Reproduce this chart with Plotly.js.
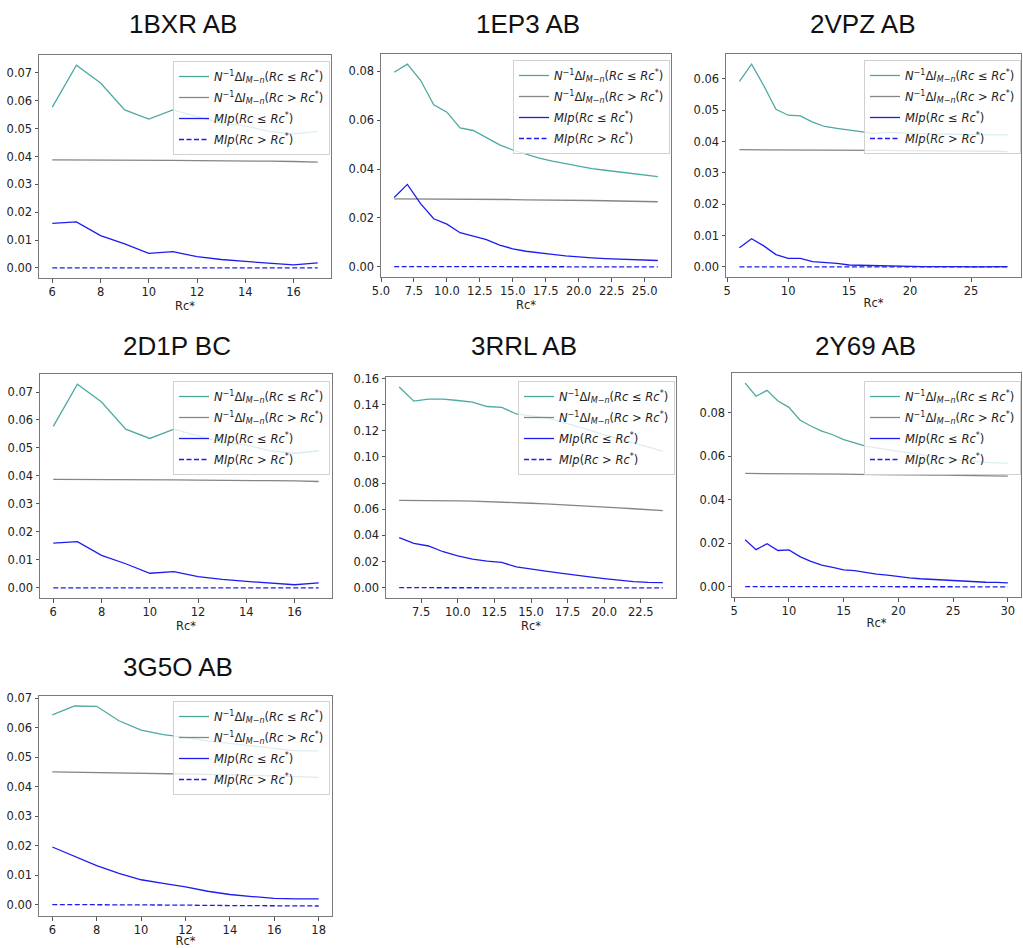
<!DOCTYPE html>
<html>
<head>
<meta charset="utf-8">
<script src="https://cdn.plot.ly/plotly-3.0.1.min.js"></script>
<style>html,body{margin:0;padding:0;background:#fff}#chart{width:1023px;height:948px}</style>
</head>
<body>
<div id="chart"></div>
<script>
// ---------------- DATA ----------------
const panelTitles = ["1BXR AB", "1EP3 AB", "2VPZ AB", "2D1P BC", "3RRL AB", "2Y69 AB", "3G5O AB"];
const seriesNames = [
  "<i>N</i><sup>−1</sup>Δ<i>I</i><sub><i>M−n</i></sub>(<i>Rc</i> ≤ <i>Rc</i><sup>*</sup>)",
  "<i>N</i><sup>−1</sup>Δ<i>I</i><sub><i>M−n</i></sub>(<i>Rc</i> > <i>Rc</i><sup>*</sup>)",
  "<i>MIp</i>(<i>Rc</i> ≤ <i>Rc</i><sup>*</sup>)",
  "<i>MIp</i>(<i>Rc</i> > <i>Rc</i><sup>*</sup>)"
];
const xTitle = "Rc*";

// 1BXR AB
const rc_1BXR   = [6,7,8,9,10,11,12,13,14,15,16,17];
const teal_1BXR = [0.0577,0.0728,0.0664,0.0567,0.0534,0.0567,0.0543,0.0520,0.0510,0.0490,0.0481,0.0490];
const gray_1BXR = [0.0388,0.0388,0.0388,0.0387,0.0387,0.0386,0.0385,0.0385,0.0384,0.0383,0.0382,0.0380];
const blue_1BXR = [0.0160,0.0165,0.0116,0.0086,0.0052,0.0058,0.0040,0.0030,0.0023,0.0016,0.0011,0.0018];
const dash_1BXR = [0,0,0,0,0,0,0,0,0,0,0,0];

// 1EP3 AB
const rc_1EP3   = [6,7,8,9,10,11,12,13,14,15,16,17,18,19,20,21,22,23,24,25,26];
const teal_1EP3 = [0.0797,0.0830,0.0764,0.0663,0.0633,0.0569,0.0558,0.0529,0.0499,0.0478,0.0460,0.0445,0.0432,0.0421,0.0411,0.0402,0.0395,0.0388,0.0381,0.0375,0.0369];
const gray_1EP3 = [0.0278,0.0278,0.0278,0.0277,0.0277,0.0277,0.0276,0.0276,0.0275,0.0275,0.0274,0.0274,0.0273,0.0272,0.0271,0.0271,0.0270,0.0269,0.0268,0.0267,0.0266];
const blue_1EP3 = [0.0283,0.0337,0.0258,0.0196,0.0174,0.0139,0.0125,0.0111,0.0088,0.0073,0.0063,0.0055,0.0050,0.0044,0.0039,0.0036,0.0033,0.0031,0.0029,0.0027,0.0025];
const dash_1EP3 = [0,0,0,0,0,0,0,0,0,0,0,0,0,0,0,0,-0.0001,-0.0001,-0.0001,-0.0001,-0.0001];

// 2VPZ AB
const rc_2VPZ   = [6,7,8,9,10,11,12,13,14,15,16,17,18,19,20,21,22,23,24,25,26,27,28];
const teal_2VPZ = [0.0592,0.0647,0.0578,0.0503,0.0484,0.0482,0.0462,0.0448,0.0442,0.0437,0.0432,0.0426,0.0429,0.0427,0.0426,0.0425,0.0424,0.0423,0.0423,0.0422,0.0422,0.0421,0.0421];
const gray_2VPZ = [0.0374,0.0374,0.0374,0.0374,0.0374,0.0373,0.0373,0.0373,0.0373,0.0372,0.0372,0.0372,0.0372,0.0371,0.0371,0.0371,0.0370,0.0370,0.0370,0.0369,0.0369,0.0369,0.0368];
const blue_2VPZ = [0.0061,0.0090,0.0067,0.0039,0.0027,0.0027,0.0017,0.0015,0.0011,0.0006,0.0005,0.0003,0.0003,0.0001,0.0001,0.0001,0.0001,0.0002,0.0001,0.0000,0.0000,0.0001,0.0001];
const dash_2VPZ = [0,0,0,0,0,0,0,0,0,0,0,0,0,0,0,0,0,0,0,0,0,0,0];

// 2D1P BC
const rc_2D1P   = [6,7,8,9,10,11,12,13,14,15,16,17];
const teal_2D1P = [0.0577,0.0728,0.0664,0.0567,0.0534,0.0567,0.0543,0.0520,0.0510,0.0490,0.0481,0.0490];
const gray_2D1P = [0.0388,0.0388,0.0388,0.0387,0.0387,0.0386,0.0385,0.0385,0.0384,0.0383,0.0382,0.0380];
const blue_2D1P = [0.0160,0.0165,0.0116,0.0086,0.0052,0.0058,0.0040,0.0030,0.0023,0.0016,0.0011,0.0018];
const dash_2D1P = [0,0,0,0,0,0,0,0,0,0,0,0];

// 3RRL AB
const rc_3RRL   = [6,7,8,9,10,11,12,13,14,15,16,17,18,19,20,21,22,23,24];
const teal_3RRL = [0.1535,0.1427,0.1442,0.1442,0.1432,0.1419,0.1386,0.1380,0.1329,0.1316,0.1300,0.1270,0.1240,0.1205,0.1170,0.1140,0.1110,0.1080,0.1045];
const gray_3RRL = [0.0668,0.0668,0.0667,0.0666,0.0664,0.0662,0.0659,0.0655,0.0651,0.0646,0.0641,0.0636,0.0630,0.0624,0.0617,0.0611,0.0604,0.0597,0.0590];
const blue_3RRL = [0.0383,0.0339,0.0319,0.0275,0.0244,0.0219,0.0203,0.0193,0.0159,0.0141,0.0126,0.0111,0.0095,0.0082,0.0069,0.0057,0.0046,0.0041,0.0039];
const dash_3RRL = [0,0,0,0,0,0,0,0,0,0,0,0,0,-0.0001,-0.0001,-0.0001,-0.0002,-0.0002,-0.0002];

// 2Y69 AB
const rc_2Y69   = [6,7,8,9,10,11,12,13,14,15,16,17,18,19,20,21,22,23,24,25,26,27,28,29,30];
const teal_2Y69 = [0.0935,0.0875,0.0902,0.0853,0.0824,0.0766,0.0738,0.0715,0.0698,0.0676,0.0661,0.0646,0.0638,0.0630,0.0621,0.0612,0.0605,0.0598,0.0591,0.0585,0.0580,0.0575,0.0571,0.0569,0.0568];
const gray_2Y69 = [0.0520,0.0520,0.0519,0.0519,0.0519,0.0518,0.0518,0.0517,0.0517,0.0517,0.0516,0.0516,0.0515,0.0515,0.0514,0.0514,0.0513,0.0513,0.0512,0.0511,0.0511,0.0510,0.0510,0.0509,0.0508];
const blue_2Y69 = [0.0215,0.0170,0.0197,0.0166,0.0169,0.0138,0.0116,0.0099,0.0088,0.0077,0.0073,0.0065,0.0057,0.0053,0.0046,0.0040,0.0036,0.0033,0.0029,0.0026,0.0025,0.0022,0.0020,0.0019,0.0017];
const dash_2Y69 = [0,0,0,0,0,0,0,0,0,0,0,0,0,0,0,0,0,-0.0001,-0.0001,-0.0001,-0.0001,-0.0001,-0.0001,-0.0001,-0.0001];

// 3G5O AB
const rc_3G5O   = [6,7,8,9,10,11,12,13,14,15,16,17,18];
const teal_3G5O = [0.0643,0.0673,0.0672,0.0623,0.0591,0.0576,0.0567,0.0555,0.0546,0.0538,0.0530,0.0521,0.0521];
const gray_3G5O = [0.0450,0.0449,0.0448,0.0447,0.0446,0.0445,0.0444,0.0442,0.0440,0.0438,0.0436,0.0434,0.0431];
const blue_3G5O = [0.0195,0.0163,0.0132,0.0106,0.0084,0.0072,0.0060,0.0045,0.0034,0.0027,0.0021,0.0019,0.0019];
const dash_3G5O = [0,0,-0.0001,-0.0001,-0.0001,-0.0002,-0.0002,-0.0003,-0.0003,-0.0004,-0.0004,-0.0005,-0.0005];

// ---------------- LAYOUT CONFIG (pixels) ----------------
const W = 1023, H = 948;
const panels = [
  {x: rc_1BXR, s: [teal_1BXR, gray_1BXR, blue_1BXR, dash_1BXR], box: [39, 331, 55, 278],  tx: 183, ty: 24,  leg: [330, 61],  xd: 2,   yd: 0.01, xf: "d"},
  {x: rc_1EP3, s: [teal_1EP3, gray_1EP3, blue_1EP3, dash_1EP3], box: [381, 671, 54, 277], tx: 528, ty: 24,  leg: [670, 60],  xd: 2.5, yd: 0.02, xf: ".1f"},
  {x: rc_2VPZ, s: [teal_2VPZ, gray_2VPZ, blue_2VPZ, dash_2VPZ], box: [726, 1021, 54, 277],tx: 863, ty: 24,  leg: [1021, 60], xd: 5,   yd: 0.01, xf: "d"},
  {x: rc_2D1P, s: [teal_2D1P, gray_2D1P, blue_2D1P, dash_2D1P], box: [40, 332, 374, 598], tx: 177, ty: 346, leg: [330, 381], xd: 2,   yd: 0.01, xf: "d"},
  {x: rc_3RRL, s: [teal_3RRL, gray_3RRL, blue_3RRL, dash_3RRL], box: [386, 676, 377, 598],tx: 524, ty: 346, leg: [675, 381], xd: 2.5, yd: 0.02, xf: ".1f"},
  {x: rc_2Y69, s: [teal_2Y69, gray_2Y69, blue_2Y69, dash_2Y69], box: [732, 1021, 373, 597],tx: 865, ty: 346, leg: [1021, 381],xd: 5,   yd: 0.02, xf: "d"},
  {x: rc_3G5O, s: [teal_3G5O, gray_3G5O, blue_3G5O, dash_3G5O], box: [39, 332, 696, 916], tx: 178, ty: 667, leg: [330, 701], xd: 2,   yd: 0.01, xf: "d"}
];
const styles = [
  {color: "#4ca9a2", width: 1.3, dash: "solid"},
  {color: "#858585", width: 1.3, dash: "solid"},
  {color: "#1c1cf0", width: 1.3, dash: "solid"},
  {color: "#1c1cf0", width: 1.3, dash: "5px,2.5px"}
];

function padRange(arrs) {
  let lo = Infinity, hi = -Infinity;
  arrs.forEach(a => a.forEach(v => { if (v < lo) lo = v; if (v > hi) hi = v; }));
  const p = (hi - lo) * 0.05;
  return [lo - p, hi + p];
}

const traces = [];
const layout = {
  width: W, height: H,
  margin: {l: 0, r: 0, t: 0, b: 0},
  paper_bgcolor: "#ffffff",
  plot_bgcolor: "#ffffff",
  font: {family: "DejaVu Sans", size: 11, color: "#222222"},
  annotations: [],
  showlegend: true
};

panels.forEach((p, i) => {
  const k = i + 1;
  const xa = "x" + (k === 1 ? "" : k), ya = "y" + (k === 1 ? "" : k);
  const legName = "legend" + (k === 1 ? "" : k);
  p.s.forEach((ys, j) => {
    traces.push({
      type: "scatter", mode: "lines",
      x: p.x, y: ys,
      xaxis: xa, yaxis: ya,
      name: seriesNames[j],
      legend: legName,
      legendgroup: "p" + k + "s" + j,
      line: {color: styles[j].color, width: styles[j].width, dash: styles[j].dash},
      hoverinfo: "x+y"
    });
  });
  const [x0, x1, y0, y1] = p.box;
  const axCommon = {
    showline: true, mirror: true, linecolor: "#7a7a7a", linewidth: 1,
    ticks: "outside", ticklen: 3.5, tickwidth: 1, tickcolor: "#555555",
    showgrid: false, zeroline: false,
    tickfont: {family: "DejaVu Sans", size: 11.5, color: "#222222"}
  };
  layout["xaxis" + (k === 1 ? "" : k)] = Object.assign({}, axCommon, {
    domain: [x0 / W, x1 / W], anchor: ya,
    range: padRange([p.x]), autorange: false,
    tick0: 0, dtick: p.xd, tickformat: p.xf,
    title: {text: xTitle, font: {family: "DejaVu Sans", size: 11.5, color: "#222222"}, standoff: 1}
  });
  layout["yaxis" + (k === 1 ? "" : k)] = Object.assign({}, axCommon, {
    domain: [1 - y1 / H, 1 - y0 / H], anchor: xa,
    range: padRange(p.s), autorange: false,
    tick0: 0, dtick: p.yd, tickformat: ".2f"
  });
  layout[legName] = {
    x: p.leg[0] / W, y: 1 - p.leg[1] / H,
    xanchor: "right", yanchor: "top",
    xref: "paper", yref: "paper",
    bgcolor: "rgba(255,255,255,0.8)",
    bordercolor: "#d0d0d0", borderwidth: 1,
    font: {family: "DejaVu Sans", size: 11.5, color: "#222222"},
    itemwidth: 30, tracegroupgap: 2, traceorder: "grouped"
  };
  layout.annotations.push({
    text: panelTitles[i], xref: "paper", yref: "paper",
    x: p.tx / W, y: 1 - p.ty / H, xanchor: "center", yanchor: "middle",
    showarrow: false,
    font: {family: "Liberation Sans, Arial, sans-serif", size: 26, color: "#111111"}
  });
});

Plotly.newPlot("chart", traces, layout, {displayModeBar: false, staticPlot: true});
</script>
</body>
</html>
